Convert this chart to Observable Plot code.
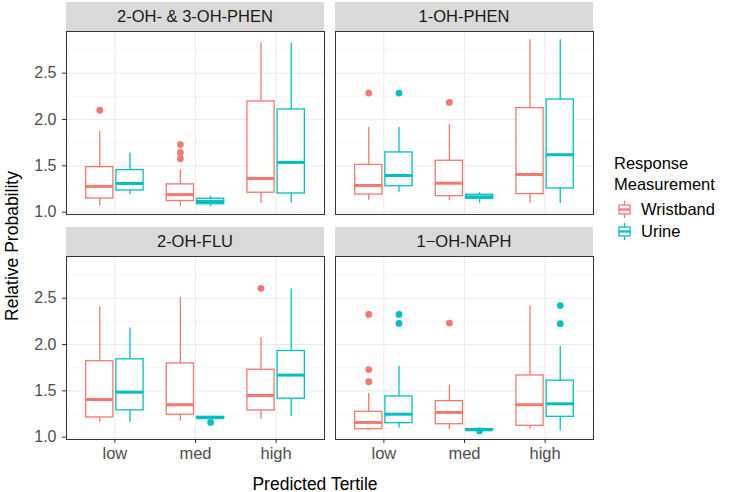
<!DOCTYPE html>
<html><head><meta charset="utf-8">
<script src="https://cdn.jsdelivr.net/npm/d3@7"></script>
<script src="https://cdn.jsdelivr.net/npm/@observablehq/plot@0.6"></script>
<style>
body{margin:0;background:#fff;font-family:"Liberation Sans",Arial,sans-serif;}
#chart{position:relative;width:731px;height:492px;overflow:hidden;background:#fff;}
.abs{position:absolute;}
.strip{position:absolute;background:#d9d9d9;color:#1a1a1a;font-size:16.5px;display:flex;align-items:center;justify-content:center;white-space:nowrap;}
.lbl{position:absolute;white-space:nowrap;color:#000;}
</style></head><body><div id="chart"></div>
<script>
const tertiles = ["low", "med", "high"];
const groups = ["Wristband", "Urine"];
const groupColors = ["#F8766D", "#00BFC4"];
const facets = ["2-OH- & 3-OH-PHEN", "1-OH-PHEN", "2-OH-FLU", "1\u2212OH-NAPH"];
const yTicks = [1.0, 1.5, 2.0, 2.5];
const yMinor = [1.25, 1.75, 2.25, 2.75];

// [lower whisker, Q1, median, Q3, upper whisker] for low, med, high
const phen23Wristband = [[1.065, 1.148, 1.278, 1.486, 1.87], [1.06, 1.12, 1.19, 1.30, 1.454], [1.097, 1.21, 1.364, 2.195, 2.825]];
const phen23Urine     = [[1.188, 1.234, 1.31, 1.454, 1.64], [1.06, 1.086, 1.115, 1.145, 1.17], [1.097, 1.202, 1.537, 2.109, 2.825]];
const phen1Wristband  = [[1.13, 1.19, 1.288, 1.51, 1.915], [1.123, 1.173, 1.313, 1.555, 1.944], [1.10, 1.195, 1.407, 2.123, 2.862]];
const phen1Urine      = [[1.216, 1.28, 1.396, 1.645, 1.915], [1.097, 1.145, 1.166, 1.188, 1.21], [1.094, 1.256, 1.62, 2.216, 2.862]];
const fluWristband    = [[1.162, 1.213, 1.407, 1.82, 2.408], [1.17, 1.242, 1.35, 1.796, 2.51], [1.194, 1.288, 1.45, 1.728, 2.073]];
const fluUrine        = [[1.162, 1.29, 1.486, 1.84, 2.177], [1.19, 1.199, 1.21, 1.22, 1.227], [1.223, 1.415, 1.67, 1.93, 2.60]];
const naphWristband   = [[1.072, 1.086, 1.159, 1.274, 1.472], [1.083, 1.14, 1.267, 1.389, 1.562], [1.086, 1.123, 1.35, 1.666, 2.415]];
const naphUrine       = [[1.097, 1.151, 1.248, 1.44, 1.763], [1.072, 1.075, 1.08, 1.088, 1.09], [1.07, 1.22, 1.36, 1.61, 1.98]];

// outliers for low, med, high
const phen23WristbandOut = [[2.10], [1.577, 1.645, 1.73], []];
const phen23UrineOut     = [[], [], []];
const phen1WristbandOut  = [[2.285], [2.185], []];
const phen1UrineOut      = [[2.285], [], []];
const fluWristbandOut    = [[], [], [2.606]];
const fluUrineOut        = [[], [1.159], []];
const naphWristbandOut   = [[1.598, 1.73, 2.325], [2.231], []];
const naphUrineOut       = [[2.228, 2.325], [1.068], [2.225, 2.42]];

const facetData = [
  [phen23Wristband, phen23Urine, phen23WristbandOut, phen23UrineOut],
  [phen1Wristband, phen1Urine, phen1WristbandOut, phen1UrineOut],
  [fluWristband, fluUrine, fluWristbandOut, fluUrineOut],
  [naphWristband, naphUrine, naphWristbandOut, naphUrineOut]
];

const chart = document.getElementById("chart");
const dodge = [-0.1875, 0.1875];
const halfW = 0.16875;
const PW = 258, PH = 183;
const panelPos = [[66, 31], [335, 31], [66, 256], [335, 256]];
const font = '"Liberation Sans", Arial, sans-serif';

facets.forEach((name, fi) => {
  const [w, u, wo, uo] = facetData[fi];
  const rows = [];
  [w, u].forEach((arr, g) => arr.forEach((s, t) => rows.push({t, g, lo: s[0], q1: s[1], med: s[2], q3: s[3], hi: s[4]})));
  const outs = [];
  [wo, uo].forEach((arr, g) => arr.forEach((vals, t) => vals.forEach(v => outs.push({t, g, v}))));
  const showY = fi % 2 === 0, showX = fi >= 2;
  const ml = showY ? 66 : 3, mt = 3, mr = 3, mb = showX ? 40 : 3;
  const xc = d => d.t + dodge[d.g];
  const col = d => groupColors[d.g];
  const marks = [
    Plot.gridY(yMinor, {stroke: "#f0f0f0", strokeOpacity: 1, strokeWidth: 0.6}),
    Plot.gridY(yTicks, {stroke: "#ebebeb", strokeOpacity: 1, strokeWidth: 1.1}),
    Plot.gridX([0, 1, 2], {stroke: "#ebebeb", strokeOpacity: 1, strokeWidth: 1.1}),
    Plot.ruleX(rows, {x: xc, y1: "lo", y2: "q1", stroke: col, strokeWidth: 1.3}),
    Plot.ruleX(rows, {x: xc, y1: "q3", y2: "hi", stroke: col, strokeWidth: 1.3}),
    Plot.rect(rows, {x1: d => xc(d) - halfW, x2: d => xc(d) + halfW, y1: "q1", y2: "q3", fill: "white", stroke: col, strokeWidth: 1.3}),
    Plot.ruleY(rows, {y: "med", x1: d => xc(d) - halfW, x2: d => xc(d) + halfW, stroke: col, strokeWidth: 3}),
    Plot.dot(outs, {x: xc, y: "v", fill: col, r: 3.4, stroke: "none"}),
    Plot.frame({stroke: "#333", strokeWidth: 1})
  ];
  if (showY) marks.push(Plot.axisY(yTicks, {tickFormat: d => d.toFixed(1), tickSize: 4, tickPadding: 6, label: null, fontSize: 16, stroke: "#333"}));
  if (showX) marks.push(Plot.axisX([0, 1, 2], {tickFormat: i => tertiles[i], tickSize: 4, tickPadding: 4, label: null, fontSize: 16.5, stroke: "#333"}));
  const svg = Plot.plot({
    width: ml + PW + mr, height: mt + PH + mb,
    marginLeft: ml, marginTop: mt, marginRight: mr, marginBottom: mb,
    x: {type: "linear", domain: [-0.6, 2.6], ...(showX ? {} : {axis: null})},
    y: {domain: [0.975, 2.95], ...(showY ? {} : {axis: null})},
    style: {fontFamily: font, color: "#4d4d4d", background: "transparent", overflow: "visible"},
    marks
  });
  svg.classList.add("abs");
  svg.style.left = (panelPos[fi][0] - ml) + "px";
  svg.style.top = (panelPos[fi][1] - mt) + "px";
  chart.appendChild(svg);
  const strip = document.createElement("div");
  strip.className = "strip";
  strip.style.left = panelPos[fi][0] + "px";
  strip.style.top = (panelPos[fi][1] - 29) + "px";
  strip.style.width = PW + "px";
  strip.style.height = "29px";
  strip.textContent = name;
  chart.appendChild(strip);
});

// axis titles
const yt = document.createElement("div");
yt.className = "lbl";
yt.style.cssText += "left:12px;top:246px;font-size:17.5px;transform:translate(-50%,-50%) rotate(-90deg);";
yt.textContent = "Relative Probability";
chart.appendChild(yt);
const xt = document.createElement("div");
xt.className = "lbl";
xt.style.cssText += "left:315px;top:484px;font-size:17.5px;transform:translate(-50%,-50%);";
xt.textContent = "Predicted Tertile";
chart.appendChild(xt);

// legend
const lt = document.createElement("div");
lt.className = "lbl";
lt.style.cssText += "left:614px;top:153px;font-size:16.5px;line-height:20.5px;";
lt.innerHTML = "Response<br>Measurement";
chart.appendChild(lt);
groups.forEach((g, i) => {
  const cy = 209 + i * 22;
  const key = document.createElementNS("http://www.w3.org/2000/svg", "svg");
  key.setAttribute("width", 17); key.setAttribute("height", 19);
  key.classList.add("abs");
  key.style.left = "616px"; key.style.top = (cy - 9.5) + "px";
  const c = groupColors[i];
  key.innerHTML = `<line x1="8.5" x2="8.5" y1="1" y2="5" stroke="${c}" stroke-width="1.3"/>
    <line x1="8.5" x2="8.5" y1="14" y2="18" stroke="${c}" stroke-width="1.3"/>
    <rect x="3" y="5" width="11" height="9" fill="white" stroke="${c}" stroke-width="1.3"/>
    <line x1="3" x2="14" y1="9.5" y2="9.5" stroke="${c}" stroke-width="2.2"/>`;
  chart.appendChild(key);
  const t = document.createElement("div");
  t.className = "lbl";
  t.style.cssText += `left:641px;top:${cy}px;font-size:16.5px;transform:translateY(-50%);color:#000;`;
  t.textContent = g;
  chart.appendChild(t);
});
</script></body></html>
